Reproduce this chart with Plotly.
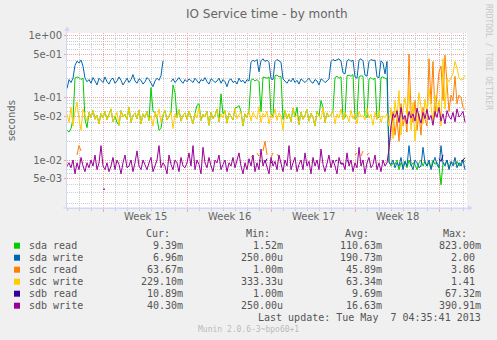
import pandas as pd
import plotly.graph_objects as go

N = None

series_names = ["sda read", "sda write", "sdc read", "sdc write", "sdb read", "sdb write"]
series_colors = ["#00CC00", "#0066B3", "#FF8000", "#FFCC00", "#330099", "#990099"]

# service time in milliseconds, one sample every 4 hours
sample_start = "2013-04-03 23:20"
sample_count = 200

sda_read_ms = [
    30, 28, 32, 45, 205, 215, 210, 195, 205, 45, 33, 58, 48, 62, 45, 52, 38, 56, 47, 60,
    44, 53, 66, 41, 50, 40, 36, 62, 49, 54, 45, 71, 40, 52, 57, 46, 63, 38, 55, 48,
    60, 43, 145, 60, 58, 47, 30, 32, 53, 62, 44, 50, 59, 160, 120, 48, 64, 42, 52, 57,
    45, 61, 50, 38, 56, 75, 80, 43, 54, 49, 60, 36, 58, 46, 52, 65, 41, 115, 55, 62,
    39, 57, 50, 44, 68, 70, 75, 60, 35, 55, 48, 63, 190, 200, 185, 195, 180, 60, 215, 210,
    205, 215, 55, 50, 225, 230, 215, 220, 45, 62, 46, 55, 41, 68, 49, 70, 37, 59, 45, 52,
    64, 42, 56, 48, 35, 60, 51, 90, 70, 40, 57, 49, 53, 62, 210, 220, 205, 215, 45, 48,
    225, 230, 220, 235, 45, 50, 215, 225, 220, 50, 48, 200, 210, 195, 205, 45, 50, 210, 215, 205,
    200, 9.5, 8, 9, 8.5, 10, 7, 9, 8, 9.5, 7.5, 10, 8, 9, 8.5, 7, 9, 10, 8, 9.5,
    8, 9, 7.5, 10, 8.5, 9, 8, 4, 9, 8.5, 10, 7.5, 9, 9, 8.5, 9.5, 8, 9, 10, 9.39,
]

sda_write_ms = [
    140, 195, 175, 205, 330, 385, 360, 400, 320, 205, 180, 195, 170, 210, 185, 160, 205, 190, 175, 215,
    180, 165, 195, 205, 170, 185, 215, 190, 160, 180, 205, 175, 195, 235, 185, 170, 200, 190, 165, 180,
    210, 195, 175, 150, 185, 205, 190, 225, 390, N, N, N, 180, 200, 175, 190, 210, 185, 170, 195,
    180, 200, 185, 175, 205, 190, 170, 195, 185, 210, 180, 165, 200, 190, 175, 185, 205, 170, 195, 180,
    150, 190, 200, 175, 185, 165, 205, 180, 190, 170, 195, 185, 370, 400, 380, 410, 260, 390, 420, 380,
    400, 370, 200, 195, 380, 410, 390, 370, 200, 185, 170, 195, 180, 205, 175, 190, 165, 200, 185, 175,
    190, 205, 180, 170, 195, 185, 160, 200, 190, 175, 185, 200, 380, 410, 390, 400, 420, 385, 250, 240,
    390, 410, 380, 400, 215, 205, 400, 420, 390, 230, 220, 380, 410, 395, 400, 215, 210, 390, 360, 240,
    380, 9, 8.5, 10, 7.5, 9, 8, 11, 7, 9.5, 8, 17, 8.5, 7, 10, 9, 7.5, 8, 16, 9,
    8, 10, 7, 9, 11, 8.5, 7.5, 17, 9, 8, 10, 7, 9.5, 8, 11, 7.5, 9, 8, 10, 6.96,
]

sdc_read_ms = (
    [N] * 5 + [12, 17, 14] + [N] * 84
    + [11, 12, N, 13, 11.5, N, 14, 20, 12, N, 11, 13, N, 12.5, 11, N, 12]
    + [N] * 35
    + [12, 13, N, 11.5, 14, N, 12, 13, N]
    + [N] * 8
    + [15, 30, 60, 25, 45, 20, 80, 35, 50, 28, 500, 60, 40, 90, 30, 55, 25, 70, 45,
       35, 420, 80, 380, 50, 120, 260, 320, 90, 480, 150, 60, 110, 90, 220, 80, 110, 100, 70, 63.67]
)

sdc_write_ms = [
    55, 40, 70, 35, 60, 85, 45, 30, 65, 50, 42, 58, 48, 62, 45, 52, 38, 56, 47, 60,
    44, 53, 66, 41, 50, 58, 36, 62, 49, 54, 45, 71, 40, 52, 57, 46, 63, 38, 55, 48,
    60, 43, 51, 35, 58, 47, 66, 40, 53, 62, 44, 50, 59, 32, 55, 48, 64, 42, 52, 57,
    45, 61, 50, 38, 56, 47, 70, 43, 54, 49, 60, 36, 58, 46, 52, 65, 41, 55, 48, 62,
    39, 57, 50, 44, 68, 46, 53, 60, 35, 55, 48, 63, 42, 58, 50, 45, 72, 40, 56, 49,
    61, 38, 54, 47, 66, 43, 57, 50, 30, 62, 46, 55, 41, 68, 49, 53, 37, 59, 45, 52,
    64, 42, 56, 48, 35, 60, 51, 45, 70, 40, 57, 49, 53, 62, 38, 55, 47, 66, 44, 58,
    50, 41, 63, 46, 55, 38, 60, 49, 52, 44, 67, 47, 54, 36, 58, 45, 62, 40, 51, 48,
    55, 35, 70, 22, 90, 45, 130, 25, 65, 100, 55, 150, 30, 85, 20, 45, 120, 70, 38, 95,
    55, 140, 75, 40, 110, 60, 90, 35, 420, 65, 200, 180, 210, 240, 380, 300, 210, 190, 200, 229.1,
]

sdb_read_ms = (
    [N] * 18 + [3.4, 3.4] + [N] * 74
    + [9, N, 10, 9.5, N, 9, 10.5, N, 9, 9.5, N, 10]
    + [N] * 28
    + [9.5, 10, N, 9, 8.5, N, 10, 9, N, 9.5]
    + [N] * 42 + [10.5, 9.5, 12] + [N] * 8 + [9.5, 10, 10.89]
)

sdb_write_ms = [
    8, 9, 7.5, 10, 6, 9, 7, 11, 8, 6.5, 9, 7.5, 10, 8, 12, 7, 9, 17, 8, 7,
    9, 6.5, 8, 11, 7, 10, 8.5, 6, 9, 12, 7.5, 8, 10, 6.5, 9, 14, 8, 7, 10, 8.5,
    7, 9, 11, 6.5, 8, 10, 17, 7.5, 9, 8, 6, 12, 8.5, 7, 10, 9, 6.5, 11, 8, 7.5,
    9, 13, 8, 17, 7, 10, 8.5, 6, 16, 9, 7.5, 11, 8, 6.5, 10, 9, 12, 7, 8.5, 10,
    6.5, 9, 8, 11, 7.5, 10, 13, 8, 6, 9, 7, 10.5, 8, 12, 6.5, 9, 7, 15, 8, 10,
    7.5, 6, 11, 8, 9.5, 7, 12, 8.5, 6.5, 10, 8, 17, 7, 9, 11, 6.5, 8.5, 10, 7, 13,
    8, 9.5, 6, 11, 8, 10, 7, 15, 8.5, 6.5, 9, 12, 7.5, 10, 8, 6, 11, 8.5, 9, 7,
    13, 8, 10, 6.5, 9, 7.5, 16, 8, 10, 6, 9, 11, 7.5, 8.5, 12, 7, 9, 6.5, 10, 8,
    9, 15, 35, 55, 48, 62, 40, 70, 45, 52, 38, 60, 47, 55, 42, 68, 50, 39, 58, 46,
    65, 44, 52, 36, 60, 48, 70, 42, 55, 38, 62, 50, 45, 58, 41, 66, 49, 53, 60, 40.3,
]

cur_text = ["9.39m", "6.96m", "63.67m", "229.10m", "10.89m", "40.30m"]
min_text = ["1.52m", "250.00u", "1.00m", "333.33u", "1.00m", "250.00u"]
avg_text = ["110.63m", "190.73m", "45.89m", "63.34m", "9.69m", "16.63m"]
max_text = ["823.00m", "2.00", "3.86", "1.41", "67.32m", "390.91m"]

week_labels = ["Week 15", "Week 16", "Week 17", "Week 18"]
week_centers = ["2013-04-10 12:00", "2013-04-17 12:00", "2013-04-24 12:00", "2013-05-01 12:00"]
week_starts = ["2013-04-07", "2013-04-14", "2013-04-21", "2013-04-28", "2013-05-05"]
x_range = ["2013-04-03 23:20", "2013-05-07 07:20"]

ytick_vals = [1, 0.5, 0.1, 0.05, 0.01, 0.005]
ytick_text = ["1e+00", "5e-01", "1e-01", "5e-02", "1e-02", "5e-03"]

title_text = "IO Service time - by month"
y_title = "seconds"
last_update = "Last update:\u00a0Tue\u00a0May\u00a0\u00a07\u00a004:35:41\u00a02013"
munin_version = "Munin 2.0.6-3~bpo60+1"
watermark = "RRDTOOL / TOBI OETIKER"

# ---------------------------------------------------------------------------
SANS = "DejaVu Sans"
MONO = "DejaVu Sans Mono"
FONT_COL = "#666666"
AXIS_COL = "#CFD6F8"
MGRID = "#F2A6A6"
GRID = "#CCCCCC"

W, H = 497, 340
L, R, T, B = 67, 467, 33, 208


def px(x):
    return (x - L) / (R - L)


def py(y):
    return (B - y) / (B - T)


times = pd.date_range(sample_start, periods=sample_count, freq="4h")
all_series = [sda_read_ms, sda_write_ms, sdc_read_ms, sdc_write_ms, sdb_read_ms, sdb_write_ms]

fig = go.Figure()
for name, col, vals in zip(series_names, series_colors, all_series):
    fig.add_trace(go.Scatter(
        x=times, y=[v / 1000 if v is not None else None for v in vals],
        mode="lines", name=name, line=dict(color=col, width=1),
        connectgaps=False, hoverinfo="skip", showlegend=False,
    ))

minor_y = [k * 10.0 ** e for e in (-3, -2, -1) for k in (2, 3, 4, 6, 7, 8, 9)]

fig.update_layout(
    width=W, height=H,
    margin=dict(l=L, r=W - R, t=T, b=H - B, pad=0),
    paper_bgcolor="#F0F0F0", plot_bgcolor="#FFFFFF",
    showlegend=False,
    xaxis=dict(
        type="date", range=x_range, tickmode="array",
        tickvals=week_starts, ticktext=[""] * len(week_starts),
        showgrid=True, gridcolor=MGRID, griddash="1px,1px", gridwidth=1,
        showline=True, linecolor=AXIS_COL, linewidth=1, zeroline=False,
        ticks="outside", ticklen=3, tickwidth=1, tickcolor=MGRID,
        automargin=False, fixedrange=True,
        minor=dict(dtick=86400000, tick0="2013-04-04", showgrid=True,
                   gridcolor=GRID, griddash="1px,1px", gridwidth=1,
                   ticks="outside", ticklen=2, tickwidth=1, tickcolor=GRID),
    ),
    yaxis=dict(
        type="log", range=[-2.77, 0.037], tickmode="array",
        tickvals=ytick_vals, ticktext=ytick_text,
        tickfont=dict(family=SANS, size=10, color=FONT_COL),
        showgrid=True, gridcolor=MGRID, griddash="1px,1px", gridwidth=1,
        showline=True, linecolor=AXIS_COL, linewidth=1, zeroline=False,
        ticks="outside", ticklen=2, tickwidth=1, tickcolor=MGRID,
        automargin=False, fixedrange=True,
        minor=dict(tickmode="array", tickvals=minor_y, showgrid=True,
                   gridcolor=GRID, griddash="1px,1px", gridwidth=1),
    ),
)

ann = []
ann.append(dict(text=title_text, x=0.5, y=py(13.5), xref="paper", yref="paper",
                xanchor="center", yanchor="middle", showarrow=False,
                font=dict(family=SANS, size=12, color=FONT_COL)))
ann.append(dict(text=y_title, x=px(11.5), y=0.5, xref="paper", yref="paper",
                xanchor="center", yanchor="middle", showarrow=False, textangle=-90,
                font=dict(family=SANS, size=10, color=FONT_COL)))
ann.append(dict(text=watermark, x=px(488.5), y=py(56.5), xref="paper", yref="paper",
                xanchor="center", yanchor="middle", showarrow=False, textangle=90,
                font=dict(family=MONO, size=8, color="#C8C8C8")))
for lab, c in zip(week_labels, week_centers):
    ann.append(dict(text=lab, x=c, y=py(216.7), xref="x", yref="paper",
                    xanchor="center", yanchor="middle", showarrow=False,
                    font=dict(family=SANS, size=10, color=FONT_COL)))

mono = dict(family=MONO, size=10, color="#555555")
header_y = 233.3
for txt, xr in zip(["Cur:", "Min:", "Avg:", "Max:"], [172, 272, 371, 469]):
    ann.append(dict(text=txt, x=px(xr), y=py(header_y), xref="paper", yref="paper",
                    xanchor="right", yanchor="middle", showarrow=False, font=mono))

shapes = []
row0 = 245.7
for k, (name, col) in enumerate(zip(series_names, series_colors)):
    ry = row0 + 12 * k
    shapes.append(dict(type="rect", xref="paper", yref="paper",
                       x0=px(14), x1=px(20), y0=py(ry + 3), y1=py(ry - 3),
                       fillcolor=col, line=dict(width=0)))
    ann.append(dict(text=name, x=px(26.5), y=py(ry), xref="paper", yref="paper",
                    xanchor="left", yanchor="middle", showarrow=False, font=mono))
    for col_vals, xr in zip([cur_text, min_text, avg_text, max_text], [185, 285, 384, 483]):
        t = col_vals[k]
        if not t[-1].isalpha():
            t = t + "\u00a0"
        ann.append(dict(text=t, x=px(xr), y=py(ry), xref="paper", yref="paper",
                        xanchor="right", yanchor="middle", showarrow=False, font=mono))

ann.append(dict(text=last_update, x=px(483), y=py(317.7), xref="paper", yref="paper",
                xanchor="right", yanchor="middle", showarrow=False, font=mono))
ann.append(dict(text=munin_version, x=px(248.5), y=py(329.3), xref="paper", yref="paper",
                xanchor="center", yanchor="middle", showarrow=False,
                font=dict(family=MONO, size=8, color="#BBBBBB")))

# axis extensions and arrows
shapes.append(dict(type="line", xref="paper", yref="paper", x0=px(67), x1=px(67),
                   y0=py(33), y1=py(29), line=dict(color=AXIS_COL, width=1)))
shapes.append(dict(type="line", xref="paper", yref="paper", x0=px(63), x1=px(470),
                   y0=py(208), y1=py(208), line=dict(color=AXIS_COL, width=1)))
shapes.append(dict(type="path", xref="paper", yref="paper",
                   path=f"M {px(64.5)},{py(31)} L {px(69.5)},{py(31)} L {px(67)},{py(26)} Z",
                   fillcolor=AXIS_COL, line=dict(width=0)))
shapes.append(dict(type="path", xref="paper", yref="paper",
                   path=f"M {px(468)},{py(205.5)} L {px(468)},{py(210.5)} L {px(473)},{py(208)} Z",
                   fillcolor=AXIS_COL, line=dict(width=0)))

fig.update_layout(annotations=ann, shapes=shapes)
fig.write_html("out.html")
